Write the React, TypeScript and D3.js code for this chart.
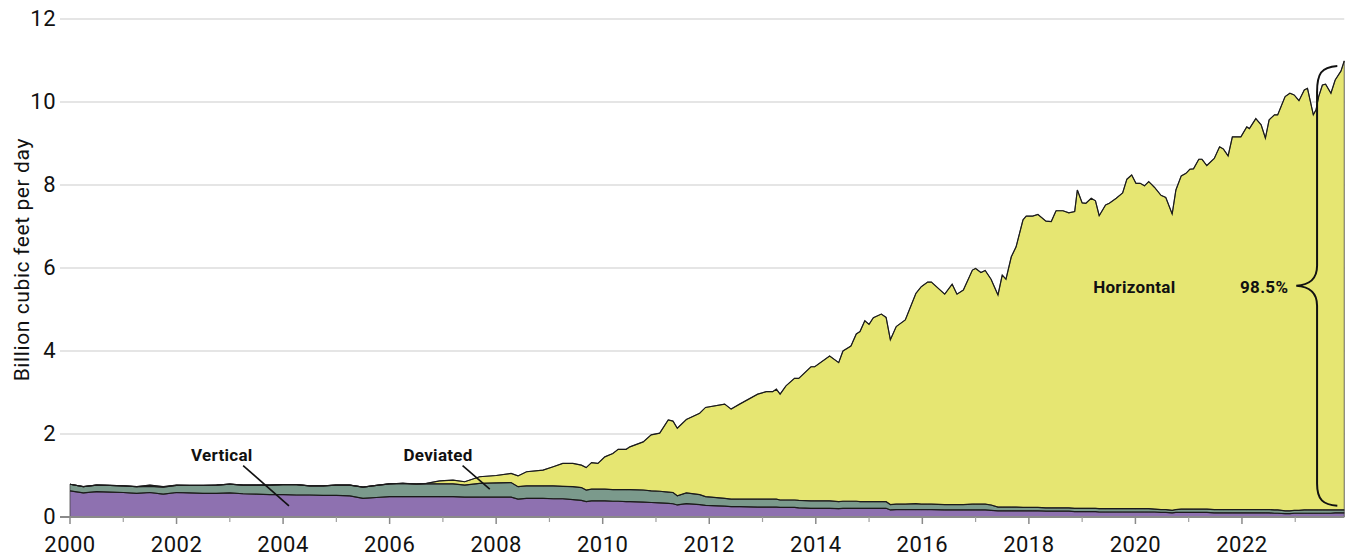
import {default as React, useEffect, useRef} from "react";
import * as d3 from "d3";

// sample dates (fractional years) shared by the three stacked series
const years = [
    2000.00, 2000.25, 2000.50, 2000.75, 2001.00, 2001.25, 2001.50, 2001.75, 2002.00, 2002.25,
    2002.50, 2002.75, 2003.00, 2003.25, 2003.50, 2003.75, 2004.00, 2004.25, 2004.50, 2004.75,
    2005.00, 2005.25, 2005.50, 2005.75, 2006.00, 2006.25, 2006.50, 2006.69, 2006.94, 2007.19,
    2007.41, 2007.69, 2008.00, 2008.28, 2008.41, 2008.57, 2008.88, 2009.07, 2009.25, 2009.44,
    2009.60, 2009.69, 2009.79, 2009.91, 2010.04, 2010.19, 2010.29, 2010.44, 2010.51, 2010.76,
    2010.91, 2011.07, 2011.23, 2011.32, 2011.40, 2011.57, 2011.82, 2011.93, 2012.29, 2012.41,
    2012.57, 2012.91, 2013.07, 2013.19, 2013.26, 2013.33, 2013.44, 2013.60, 2013.68, 2013.91,
    2013.98, 2014.26, 2014.43, 2014.51, 2014.66, 2014.76, 2014.83, 2014.92, 2015.00, 2015.08,
    2015.23, 2015.32, 2015.40, 2015.51, 2015.68, 2015.88, 2015.98, 2016.10, 2016.17, 2016.42,
    2016.56, 2016.65, 2016.77, 2016.94, 2017.00, 2017.10, 2017.18, 2017.29, 2017.42, 2017.50,
    2017.57, 2017.67, 2017.76, 2017.89, 2017.95, 2018.07, 2018.17, 2018.32, 2018.42, 2018.51,
    2018.64, 2018.75, 2018.86, 2018.91, 2019.00, 2019.07, 2019.17, 2019.25, 2019.32, 2019.44,
    2019.51, 2019.64, 2019.76, 2019.84, 2019.93, 2020.01, 2020.09, 2020.17, 2020.25, 2020.36,
    2020.48, 2020.57, 2020.69, 2020.76, 2020.86, 2020.95, 2021.02, 2021.09, 2021.19, 2021.25,
    2021.34, 2021.48, 2021.58, 2021.65, 2021.74, 2021.82, 2021.98, 2022.09, 2022.14, 2022.26,
    2022.36, 2022.44, 2022.51, 2022.61, 2022.67, 2022.81, 2022.90, 2022.98, 2023.07, 2023.17,
    2023.23, 2023.34, 2023.39, 2023.44, 2023.51, 2023.57, 2023.67, 2023.75, 2023.86, 2023.92
];

// billion cubic feet per day
const vertical = [
    .63, .58, .61, .60, .59, .57, .59, .55, .59, .58,
    .57, .57, .58, .56, .55, .54, .54, .53, .53, .52,
    .52, .51, .45, .47, .49, .49, .49, .49, .49, .49,
    .48, .48, .48, .48, .43, .45, .45, .44, .44, .42,
    .40, .37, .39, .39, .39, .38, .38, .37, .37, .36,
    .35, .34, .33, .32, .29, .32, .30, .28, .26, .25,
    .25, .24, .24, .24, .24, .23, .23, .23, .22, .21,
    .21, .21, .20, .21, .21, .21, .21, .21, .21, .21,
    .21, .21, .17, .18, .18, .18, .18, .18, .18, .17,
    .17, .17, .17, .17, .17, .17, .17, .16, .15, .15,
    .15, .15, .15, .15, .15, .15, .15, .14, .14, .14,
    .14, .14, .13, .13, .13, .13, .13, .13, .12, .12,
    .12, .12, .12, .12, .12, .12, .12, .12, .12, .12,
    .11, .11, .10, .11, .11, .11, .11, .11, .11, .11,
    .11, .10, .10, .10, .10, .10, .10, .10, .10, .10,
    .10, .10, .10, .09, .09, .08, .08, .09, .09, .09,
    .09, .09, .09, .09, .09, .09, .09, .10, .10, .10
];

const deviated = [
    .16, .15, .16, .16, .16, .16, .15, .17, .17, .18,
    .19, .20, .21, .21, .22, .23, .24, .25, .22, .23,
    .25, .26, .27, .29, .31, .32, .30, .31, .31, .31,
    .29, .33, .34, .35, .30, .30, .30, .31, .30, .31,
    .31, .28, .28, .28, .28, .28, .28, .29, .29, .29,
    .28, .28, .27, .27, .22, .26, .24, .21, .19, .18,
    .18, .19, .19, .19, .19, .18, .18, .18, .18, .18,
    .18, .18, .17, .17, .17, .17, .16, .16, .16, .16,
    .16, .16, .13, .13, .13, .14, .13, .13, .13, .13,
    .13, .13, .13, .14, .14, .14, .14, .13, .09, .09,
    .09, .09, .09, .08, .08, .08, .08, .08, .08, .08,
    .08, .08, .08, .08, .08, .08, .08, .08, .08, .08,
    .08, .08, .08, .08, .08, .08, .08, .08, .08, .07,
    .07, .07, .06, .07, .08, .08, .08, .08, .08, .08,
    .08, .08, .08, .08, .08, .08, .08, .08, .08, .08,
    .08, .08, .08, .08, .08, .07, .07, .07, .07, .08,
    .08, .08, .08, .08, .08, .08, .08, .07, .07, .07
];

const horizontal = [
    0, 0, 0, 0, 0, 0, .03, .01, .01, 0,
    0, 0, 0, 0, 0, 0, 0, 0, 0, 0,
    0, 0, 0, 0, 0, 0, .01, .01, .07, .09,
    .08, .16, .18, .22, .26, .34, .38, .46, .55, .56,
    .54, .54, .64, .62, .78, .87, .97, .97, 1.03, 1.16,
    1.35, 1.40, 1.74, 1.72, 1.63, 1.77, 1.96, 2.15, 2.27, 2.17,
    2.29, 2.53, 2.59, 2.59, 2.65, 2.55, 2.75, 2.93, 2.94, 3.23,
    3.23, 3.49, 3.35, 3.62, 3.74, 4.03, 4.10, 4.36, 4.27, 4.43,
    4.52, 4.44, 3.97, 4.28, 4.44, 5.07, 5.24, 5.35, 5.35, 5.07,
    5.31, 5.07, 5.17, 5.64, 5.68, 5.58, 5.63, 5.44, 5.11, 5.59,
    5.49, 6.03, 6.27, 6.93, 7.02, 7.02, 7.06, 6.91, 6.90, 7.16,
    7.16, 7.11, 7.15, 7.67, 7.36, 7.35, 7.47, 7.41, 7.06, 7.32,
    7.36, 7.48, 7.61, 7.94, 8.04, 7.84, 7.84, 7.78, 7.88, 7.75,
    7.57, 7.52, 7.14, 7.70, 8.03, 8.09, 8.19, 8.20, 8.43, 8.43,
    8.28, 8.46, 8.74, 8.69, 8.52, 8.98, 8.98, 9.22, 9.18, 9.42,
    9.27, 8.95, 9.39, 9.52, 9.52, 9.98, 10.06, 10.01, 9.87, 10.12,
    10.16, 9.52, 9.64, 9.96, 10.24, 10.26, 10.04, 10.36, 10.58, 10.82
];

const seriesKeys = ["vertical", "deviated", "horizontal"];
const seriesColors = ["#8e71b0", "#7b9a8c", "#e6e672"];
const yTicks = [0, 2, 4, 6, 8, 10, 12];
const xMajorTicks = [2000, 2002, 2004, 2006, 2008, 2010, 2012, 2014, 2016, 2018, 2020, 2022];
const xMinorTicks = [2001, 2003, 2005, 2007, 2009, 2011, 2013, 2015, 2017, 2019, 2021, 2023];
const horizontalShare = "98.5%";

const width = 1350;
const height = 558;
const margin = {
    top: 19,
    bottom: 41,
    left: 70,
    right: 1.5
};
const font = "Roboto, 'DejaVu Sans', sans-serif";

export default function App() {

    const containerRef = useRef<SVGSVGElement>(null);

    useEffect(
        () => {
            updatePlot();
        },
        []
    );

    function updatePlot() {
        const svg = d3.select(containerRef.current);
        svg.selectAll("*").remove();

        const rows = years.map((yr, i) => ({
            year: yr,
            vertical: vertical[i],
            deviated: deviated[i],
            horizontal: horizontal[i]
        }));
        const stacked = d3.stack<any>().keys(seriesKeys)(rows);

        const xScale = d3.scaleLinear()
            .domain([2000, 2024])
            .range([margin.left, width - margin.right]);

        const yScale = d3.scaleLinear()
            .domain([0, 12])
            .range([height - margin.bottom, margin.top]);

        const xEnd = xScale(years[years.length - 1]);

        // gridlines
        svg.append("g")
            .selectAll("line")
            .data(yTicks.filter(t => t > 0))
            .join("line")
            .attr("x1", margin.left - 10)
            .attr("x2", xEnd)
            .attr("y1", d => yScale(d))
            .attr("y2", d => yScale(d))
            .attr("stroke", "#dcdcdc")
            .attr("stroke-width", 1.5);

        // y tick labels
        svg.append("g")
            .selectAll("text")
            .data(yTicks)
            .join("text")
            .attr("x", 56)
            .attr("y", d => yScale(d))
            .attr("dy", "0.3em")
            .attr("text-anchor", "end")
            .attr("font-family", font)
            .attr("font-size", 22)
            .attr("letter-spacing", 0.5)
            .attr("fill", "#111")
            .text(d => d);

        const area = d3.area<any>()
            .x(d => xScale(d.data.year))
            .y0(d => yScale(d[0]))
            .y1(d => yScale(d[1]));

        svg.append("g")
            .selectAll("path")
            .data(stacked)
            .join("path")
            .attr("d", d => area(d))
            .attr("fill", (d, i) => seriesColors[i])
            .attr("stroke", "#444")
            .attr("stroke-width", 0.8);

        const topLine = d3.line<any>()
            .x(d => xScale(d.data.year))
            .y(d => yScale(d[1]));

        svg.append("g")
            .selectAll("path")
            .data(stacked)
            .join("path")
            .attr("d", d => topLine(d))
            .attr("fill", "none")
            .attr("stroke", "#1a1a1a")
            .attr("stroke-width", 1.2);

        // x axis
        const axisY = yScale(0);
        svg.append("line")
            .attr("x1", margin.left - 10)
            .attr("x2", xEnd)
            .attr("y1", axisY)
            .attr("y2", axisY)
            .attr("stroke", "#8a8a8a")
            .attr("stroke-width", 2);

        svg.append("g")
            .selectAll("line")
            .data(xMajorTicks)
            .join("line")
            .attr("x1", d => xScale(d))
            .attr("x2", d => xScale(d))
            .attr("y1", axisY)
            .attr("y2", axisY + 7)
            .attr("stroke", "#8a8a8a")
            .attr("stroke-width", 1.5);

        svg.append("g")
            .selectAll("line")
            .data(xMinorTicks)
            .join("line")
            .attr("x1", d => xScale(d))
            .attr("x2", d => xScale(d))
            .attr("y1", axisY)
            .attr("y2", axisY + 5)
            .attr("stroke", "#a0a0a0")
            .attr("stroke-width", 1.2);

        svg.append("g")
            .selectAll("text")
            .data(xMajorTicks)
            .join("text")
            .attr("x", d => xScale(d))
            .attr("y", 552)
            .attr("text-anchor", "middle")
            .attr("font-family", font)
            .attr("font-size", 22)
            .attr("letter-spacing", 0.5)
            .attr("fill", "#111")
            .text(d => d);

        // y axis title
        svg.append("text")
            .attr("transform", `translate(29, ${yScale(6.2)}) rotate(-90)`)
            .attr("text-anchor", "middle")
            .attr("font-family", font)
            .attr("font-size", 21)
            .attr("letter-spacing", 0.6)
            .attr("fill", "#111")
            .text("Billion cubic feet per day");

        // annotations
        const label = (txt: string, x: number, y: number, anchor: string) =>
            svg.append("text")
                .attr("x", x)
                .attr("y", y)
                .attr("text-anchor", anchor)
                .attr("font-family", font)
                .attr("font-size", 17)
                .attr("font-weight", "bold")
                .attr("letter-spacing", 0.3)
                .attr("fill", "#111")
                .text(txt);

        const leader = (x1: number, y1: number, x2: number, y2: number) =>
            svg.append("line")
                .attr("x1", xScale(x1)).attr("y1", yScale(y1))
                .attr("x2", xScale(x2)).attr("y2", yScale(y2))
                .attr("stroke", "#111")
                .attr("stroke-width", 1.6);

        label("Vertical", xScale(2002.85), yScale(1.35), "middle");
        leader(2003.25, 1.24, 2004.11, 0.27);

        label("Deviated", xScale(2006.91), yScale(1.35), "middle");
        leader(2007.37, 1.24, 2007.88, 0.67);

        label("Horizontal", xScale(2019.98), yScale(5.4), "middle");
        label(horizontalShare, xScale(2022.87), yScale(5.4), "end");

        // curly brace spanning the horizontal share at the latest month
        const bx = xScale(2023.41);
        const tipX = xScale(2023.02);
        const endX = xScale(2023.79);
        const yTop = yScale(10.87);
        const yBot = yScale(0.27);
        const yMid = yScale(5.57);
        const bracePath = d3.path();
        bracePath.moveTo(endX, yTop);
        bracePath.bezierCurveTo(bx + 4, yTop + 1, bx, yTop + 8, bx, yTop + 26);
        bracePath.lineTo(bx, yMid - 20);
        bracePath.bezierCurveTo(bx, yMid - 6, bx - 8, yMid - 1, tipX, yMid);
        bracePath.bezierCurveTo(bx - 8, yMid + 1, bx, yMid + 6, bx, yMid + 20);
        bracePath.lineTo(bx, yBot - 22);
        bracePath.bezierCurveTo(bx, yBot - 6, bx + 6, yBot - 1, endX, yBot);

        svg.append("path")
            .attr("d", bracePath.toString())
            .attr("fill", "none")
            .attr("stroke", "#111")
            .attr("stroke-width", 2);
    }

    return (
        <svg
            width={width}
            height={height}
            style={{position: "absolute", left: 0, top: 0, backgroundColor: "white", display: "block"}}
            ref={containerRef}
        />
    );
}
